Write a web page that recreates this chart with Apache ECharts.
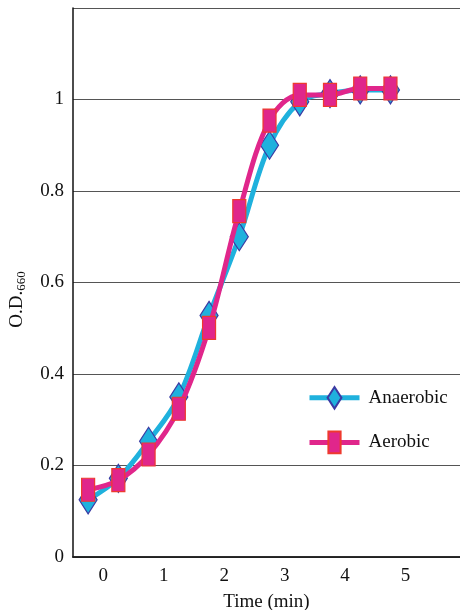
<!DOCTYPE html>
<html>
<head>
<meta charset="utf-8">
<script src="https://cdn.jsdelivr.net/npm/echarts@6/dist/echarts.min.js"></script>
<style>
  html, body { margin: 0; padding: 0; background: #fff; }
  #chart { width: 460px; height: 610px; }
</style>
</head>
<body>
<div id="chart"></div>
<script>
// sample times (min) and O.D.660 readings
const times = [-0.25, 0.25, 0.75, 1.25, 1.75, 2.25, 2.75, 3.25, 3.75, 4.25, 4.75]
const anaerobic = [0.125, 0.172, 0.253, 0.35, 0.528, 0.70, 0.90, 0.995, 1.013, 1.021, 1.021]
const aerobic = [0.147, 0.168, 0.224, 0.324, 0.501, 0.756, 0.954, 1.010, 1.010, 1.024, 1.024]
const xTicks = [0, 1, 2, 3, 4, 5]

const serif = '"Liberation Serif", "DejaVu Serif", serif'
// square bounding boxes (leading moveTo points) so the legend keeps the tall shapes
const diamond = 'path://M0,0M28,28M14,0L23,14L14,28L5,14Z'
const tallRect = 'path://M0,0M23,23M5,0H18V23H5Z'
const chart = echarts.init(document.getElementById('chart'))

function pairs(ys) {
  return times.map((t, i) => [t, ys[i]])
}

chart.setOption({
  animation: false,
  grid: { left: 73, right: 0, top: 8, bottom: 53, outerBoundsMode: 'none' },
  legend: {
    left: 302,
    top: 381,
    orient: 'vertical',
    itemWidth: 50,
    itemHeight: 27,
    itemGap: 21,
    lineStyle: { width: 5 },
    textStyle: { fontFamily: serif, fontSize: 19, color: '#111', padding: [0, 0, 0, 4] },
    data: ['Anaerobic', 'Aerobic'],
  },
  xAxis: [{
    type: 'value',
    min: -0.5,
    max: 5.9,
    name: 'Time (min)',
    nameLocation: 'middle',
    nameGap: 36,
    nameTextStyle: { fontFamily: serif, fontSize: 19, color: '#111' },
    axisLine: { onZero: false, lineStyle: { color: '#111', width: 1.5 } },
    axisTick: { show: false },
    splitLine: { show: false },
    axisLabel: {
      customValues: xTicks,
      margin: 10,
      fontFamily: serif,
      fontSize: 19,
      color: '#111',
    },
  }, {
    type: 'value',
    position: 'top',
    min: -0.5,
    max: 5.9,
    axisLine: { show: true, lineStyle: { color: '#222', width: 1.5 } },
    axisTick: { show: false },
    axisLabel: { show: false },
    splitLine: { show: false },
  }],
  yAxis: {
    type: 'value',
    min: 0,
    max: 1.2,
    interval: 0.2,
    name: '{m|O.D.}{s|660}',
    nameLocation: 'middle',
    nameGap: 45,
    nameTextStyle: {
      fontFamily: serif,
      color: '#111',
      padding: [0, 34, 0, 0],
      rich: {
        m: { fontFamily: serif, fontSize: 19, color: '#111' },
        s: { fontFamily: serif, fontSize: 13, color: '#111', padding: [8, 0, 0, 0] },
      },
    },
    axisLine: { show: true, onZero: false, lineStyle: { color: '#111', width: 1.5 } },
    axisTick: { show: false },
    axisLabel: {
      margin: 9,
      fontFamily: serif,
      fontSize: 19,
      color: '#111',
      formatter: (v) => (v > 1.1 ? '' : String(+v.toFixed(1))),
    },
    splitLine: { lineStyle: { color: '#555', width: 1 } },
  },
  series: [
    {
      name: 'Anaerobic',
      type: 'line',
      data: pairs(anaerobic),
      smooth: 0.35,
      symbol: diamond,
      symbolSize: 28,
      lineStyle: { color: '#1fb1dd', width: 5 },
      itemStyle: { color: '#1fb1dd', borderColor: '#3b3aa3', borderWidth: 1.2 },
      z: 2,
    },
    {
      name: 'Aerobic',
      type: 'line',
      data: pairs(aerobic),
      smooth: 0.35,
      symbol: tallRect,
      symbolSize: 23,
      lineStyle: { color: '#e0268b', width: 5 },
      itemStyle: { color: '#e0268b', borderColor: '#ee3a2e', borderWidth: 1.2 },
      z: 3,
    },
  ],
})
</script>
</body>
</html>
